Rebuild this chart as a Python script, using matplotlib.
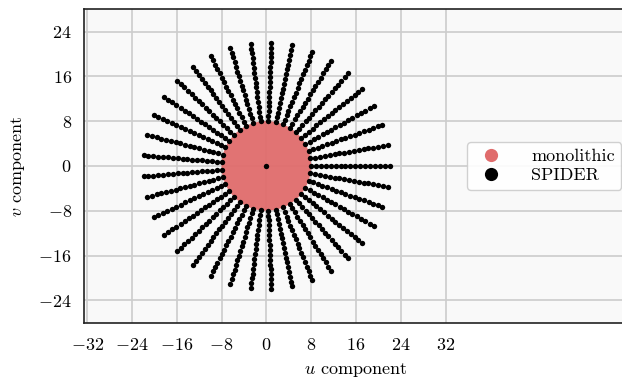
import numpy as np
import matplotlib
matplotlib.use("Agg")
import matplotlib.pyplot as plt
from matplotlib.patches import Circle
from matplotlib.lines import Line2D

plt.rcParams['font.family'] = 'serif'
plt.rcParams['font.serif'] = ['cmr10']
plt.rcParams['mathtext.fontset'] = 'cm'
plt.rcParams['axes.formatter.use_mathtext'] = True
plt.rcParams['axes.unicode_minus'] = True

# --- data ---
monolithic_radius = 8.0
spoke_angles_deg = [0.0, 9.7, 19.5, 29.2, 38.9, 48.6, 58.4, 68.1, 77.8, 87.6,
                    97.3, 107.0, 116.8, 126.5, 136.2, 145.9, 155.7, 165.4, 175.1,
                    184.9, 194.6, 204.3, 214.1, 223.8, 233.5, 243.2, 253.0, 262.7,
                    272.4, 282.2, 291.9, 301.6, 311.4, 321.1, 330.8, 340.5, 350.3]
spoke_radii = [8.0, 8.875, 9.75, 10.625, 11.5, 12.375, 13.25, 14.125, 15.0,
               15.875, 16.75, 17.625, 18.5, 19.375, 20.25, 21.125, 22.0]
center_u = [0.0]
center_v = [0.0]
xticks = [-32, -24, -16, -8, 0, 8, 16, 24, 32]
yticks = [-24, -16, -8, 0, 8, 16, 24]

ang = np.deg2rad(np.array(spoke_angles_deg))[:, None]
rad = np.array(spoke_radii)[None, :]
u = np.concatenate([(rad * np.cos(ang)).ravel(), center_u])
v = np.concatenate([(rad * np.sin(ang)).ravel(), center_v])

W, H = 622, 381
fig = plt.figure(figsize=(W / 100, H / 100), dpi=100)
fig.patch.set_facecolor('white')
x0, x1 = -32.5, 64.5
y0, y1 = -28.0, 28.0
ppu = 5.6
left_px, bottom_px = 84.3, H - 322.7
ax_w = (x1 - x0) * ppu
ax = fig.add_axes([left_px / W, bottom_px / H, ax_w / W, (y1 - y0) * ppu / H])
ax.set_facecolor('#f9f9f9')

red = '#e06c6c'
circ = Circle((0, 0), monolithic_radius, facecolor=red, edgecolor='none', alpha=0.95, zorder=2)
ax.add_patch(circ)
ax.scatter(u, v, s=15, color='black', zorder=3, linewidths=0)

ax.set_xlim(x0, x1)
ax.set_ylim(y0, y1)
ax.set_xticks(xticks)
ax.set_yticks(yticks)
ax.grid(True, color='#cccccc', linewidth=1.2, zorder=0)
ax.set_axisbelow(True)
ax.tick_params(length=0, labelsize=13)
ax.tick_params(axis='x', pad=10)
ax.tick_params(axis='y', pad=9)
for s in ['left', 'bottom', 'top']:
    ax.spines[s].set_color('#222222')
    ax.spines[s].set_linewidth(1.2)
ax.spines['right'].set_visible(False)

ax.set_xlabel(r'$u$ component', fontsize=13, labelpad=6)
ax.set_ylabel(r'$v$ component', fontsize=13, labelpad=8)

handles = [Line2D([], [], marker='o', linestyle='none', markersize=9.5,
                  markerfacecolor=red, markeredgecolor='none'),
           Line2D([], [], marker='o', linestyle='none', markersize=9.5,
                  markerfacecolor='black', markeredgecolor='none')]
leg = ax.legend(handles, ['monolithic', 'SPIDER'], loc='center left',
                bbox_to_anchor=((467 - left_px) / ax_w, 0.5),
                fontsize=13, frameon=True, framealpha=0.9, edgecolor='#cccccc',
                handletextpad=1.2, borderpad=0.35, labelspacing=0.2,
                borderaxespad=0)
leg.get_frame().set_linewidth(1.0)

fig.savefig('out.png', dpi=100)
